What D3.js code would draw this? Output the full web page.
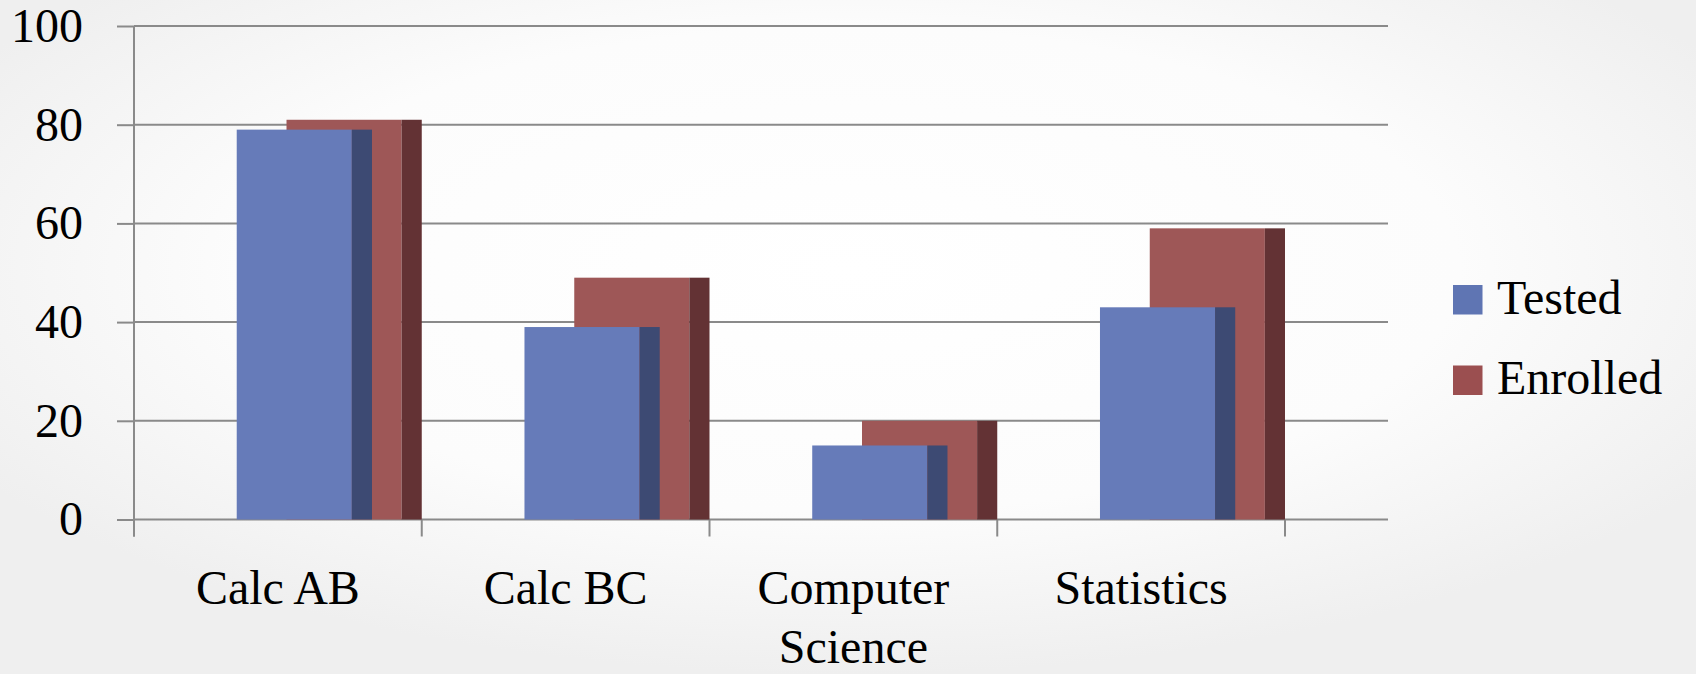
<!DOCTYPE html>
<html>
<head>
<meta charset="utf-8">
<script src="https://cdn.jsdelivr.net/npm/d3@7"></script>
<style>
  html, body { margin: 0; padding: 0; }
  body { width: 1696px; height: 674px; overflow: hidden; }
  svg text { font-family: "Palatino Linotype", "Book Antiqua", Palatino, "Liberation Serif", serif; fill: #000; }
</style>
</head>
<body>
<svg id="chart" width="1696" height="674"></svg>
<script>
const categories = ["Calc AB", "Calc BC", "Computer Science", "Statistics"];
const seriesNames = ["Tested", "Enrolled"];
const tested = [79, 39, 15, 43];
const enrolled = [81, 49, 20, 59];
const yTicks = [0, 20, 40, 60, 80, 100];

const colors = {
  Tested:   { front: "#667bb9", side: "#3d4a73", legend: "#5f75b3" },
  Enrolled: { front: "#9e5757", side: "#633234", legend: "#9b4f50" }
};

const W = 1696, H = 674;
const svg = d3.select("#chart");

// background gradient
const defs = svg.append("defs");
const grad = defs.append("radialGradient").attr("id", "bg")
  .attr("cx", "50%").attr("cy", "40%").attr("r", "60%");
grad.append("stop").attr("offset", "0%").attr("stop-color", "#ffffff");
grad.append("stop").attr("offset", "60%").attr("stop-color", "#fcfcfc");
grad.append("stop").attr("offset", "100%").attr("stop-color", "#efefef");
svg.append("rect").attr("width", W).attr("height", H).attr("fill", "url(#bg)");

const plotLeft = 134, plotRight = 1285, gridRight = 1388;
const y = d3.scaleLinear().domain([0, 100]).range([519.5, 26]);
const x = d3.scaleBand().domain(categories).range([plotLeft, plotRight]).padding(0);
const bw = x.bandwidth();

const gridColor = "#8a8a8a";

// gridlines
svg.append("g").selectAll("line").data(yTicks).join("line")
  .attr("x1", plotLeft).attr("x2", gridRight)
  .attr("y1", d => y(d)).attr("y2", d => y(d))
  .attr("stroke", gridColor).attr("stroke-width", 2);

// y axis
const yAxis = d3.axisLeft(y).tickValues(yTicks).tickSize(17).tickPadding(34).tickFormat(d3.format("d"));
const gy = svg.append("g").attr("transform", `translate(${plotLeft},0)`).call(yAxis);
gy.select(".domain").attr("stroke", gridColor).attr("stroke-width", 2)
  .attr("d", `M0,${y(100)}V${y(0) + 17}`);
gy.selectAll(".tick line").attr("stroke", gridColor).attr("stroke-width", 2);
gy.selectAll(".tick text").attr("font-size", 48)
  .attr("font-family", '"Palatino Linotype", "Book Antiqua", Palatino, "Liberation Serif", serif')
  .attr("fill", "#000");

// category boundary ticks
const bounds = categories.map(c => x(c)).concat([x.range()[1]]);
svg.append("g").selectAll("line").data(bounds).join("line")
  .attr("x1", d => d).attr("x2", d => d)
  .attr("y1", y(0)).attr("y2", y(0) + 17)
  .attr("stroke", gridColor).attr("stroke-width", 2);

// bars
const frontW = bw * 0.40, sideW = bw * 0.07;
const offsets = { Tested: bw * 0.357, Enrolled: bw * 0.530 };
const seriesData = { Tested: tested, Enrolled: enrolled };
["Enrolled", "Tested"].forEach(name => {
  const g = svg.append("g");
  const data = categories.map((c, i) => ({ c, v: seriesData[name][i] }));
  g.selectAll("rect.front").data(data).join("rect").attr("class", "front")
    .attr("x", d => x(d.c) + offsets[name]).attr("width", frontW)
    .attr("y", d => y(d.v)).attr("height", d => y(0) - y(d.v))
    .attr("fill", colors[name].front);
  g.selectAll("rect.side").data(data).join("rect").attr("class", "side")
    .attr("x", d => x(d.c) + offsets[name] + frontW).attr("width", sideW)
    .attr("y", d => y(d.v)).attr("height", d => y(0) - y(d.v))
    .attr("fill", colors[name].side);
});

// category labels (wrapped)
const labG = svg.append("g");
categories.forEach(c => {
  const t = labG.append("text").attr("x", x(c) + bw / 2).attr("y", 604)
    .attr("text-anchor", "middle").attr("font-size", 48);
  const words = c.split(" ");
  let line = [];
  let tspan = t.append("tspan").attr("x", x(c) + bw / 2).attr("dy", 0);
  words.forEach(w => {
    line.push(w);
    tspan.text(line.join(" "));
    if (tspan.node().getComputedTextLength() > bw - 20 && line.length > 1) {
      line.pop();
      tspan.text(line.join(" "));
      line = [w];
      tspan = t.append("tspan").attr("x", x(c) + bw / 2).attr("dy", 59).text(w);
    }
  });
});

// legend
const leg = svg.append("g");
seriesNames.forEach((name, i) => {
  const ly = 285 + i * 80.5;
  leg.append("rect").attr("x", 1453).attr("y", ly).attr("width", 29.5).attr("height", 29.5)
    .attr("fill", colors[name].legend);
  leg.append("text").attr("x", 1497).attr("y", ly + 28.5).attr("font-size", 48).text(name);
});
</script>
</body>
</html>
